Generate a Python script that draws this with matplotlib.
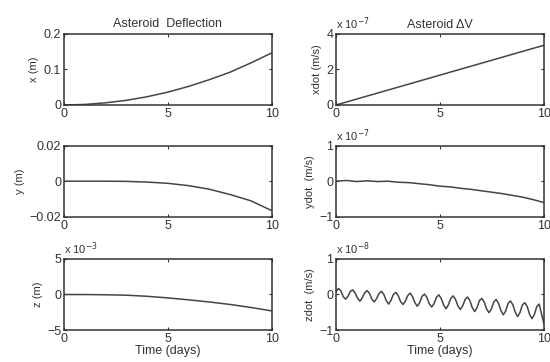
import numpy as np
import matplotlib
matplotlib.use('Agg')
import matplotlib.pyplot as plt

plt.rcParams['font.family'] = ['Liberation Sans', 'DejaVu Sans']

# --- данные ---
t_coarse = [0, 1, 2, 3, 4, 5, 6, 7, 8, 9, 10]
x_pos = [0, 0.0015, 0.006, 0.013, 0.023, 0.036, 0.052, 0.071, 0.092, 0.118, 0.146]
y_pos = [0, 0, 0, -0.0001, -0.0005, -0.0012, -0.0025, -0.0045, -0.0075, -0.011, -0.0165]
z_pos = [0, -0.01, -0.04, -0.1, -0.25, -0.48, -0.75, -1.05, -1.4, -1.82, -2.3]       # x 1e-3
xdot = [0, 0.335, 0.67, 1.005, 1.34, 1.675, 2.01, 2.345, 2.68, 3.015, 3.35]          # x 1e-7

t_ydot = [0, 0.5, 1, 1.5, 2, 2.5, 3, 3.5, 4, 4.5, 5, 5.5, 6, 6.5, 7, 7.5, 8, 8.5, 9, 9.5, 10]
ydot = [0, 0.02, -0.01, 0.01, -0.01, 0.0, -0.03, -0.04, -0.07, -0.1, -0.14, -0.16,
        -0.2, -0.23, -0.27, -0.31, -0.35, -0.4, -0.45, -0.52, -0.6]                   # x 1e-7

# zdot, x 1e-8, колебания считаны по гребням и впадинам
zdot = [0.08,
        0.17, 0.10, -0.06, -0.13, -0.05, 0.09,
        0.13, 0.04, -0.10, -0.19, -0.09, 0.05,
        0.11, 0.03, -0.13, -0.21, -0.11, 0.03,
        0.09, 0.00, -0.17, -0.27, -0.16, 0.00,
        0.06, -0.03, -0.20, -0.28, -0.19, -0.03,
        0.04, -0.06, -0.23, -0.33, -0.23, -0.05,
        0.01, -0.08, -0.26, -0.35, -0.26, -0.08,
        -0.01, -0.11, -0.29, -0.40, -0.29, -0.11,
        -0.04, -0.14, -0.32, -0.42, -0.32, -0.14,
        -0.07, -0.17, -0.37, -0.48, -0.37, -0.17,
        -0.11, -0.21, -0.41, -0.51, -0.41, -0.21,
        -0.14, -0.25, -0.45, -0.57, -0.46, -0.25,
        -0.18, -0.29, -0.50, -0.62, -0.50, -0.29,
        -0.23, -0.34, -0.56, -0.68, -0.56, -0.34,
        -0.27, -0.55, -0.82]
t_zdot = np.linspace(0, 10, len(zdot))

line_c = '#454545'
txt_c = '#333333'
fs = 9

fig = plt.figure(figsize=(5.5, 3.62), dpi=100)

lefts = [0.116, 0.611]
bottoms = [0.710, 0.401, 0.088]
w, h = 0.378, 0.197


def setup(ax, ylim, yticks, ylabel, expo=None, xlabel=False):
    ax.set_xlim(0, 10)
    ax.set_ylim(*ylim)
    ax.set_xticks([0, 5, 10])
    ax.set_yticks(yticks)
    ax.tick_params(direction='in', length=2.5, width=0.8, top=True, right=True,
                   labelsize=fs, colors=txt_c, pad=2)
    for s in ax.spines.values():
        s.set_linewidth(1.1)
        s.set_color(txt_c)
    ax.set_ylabel(ylabel, fontsize=fs - 1, color=txt_c, labelpad=3)
    if expo is not None:
        ax.text(0.0, 1.02, r'x 10$^{%d}$' % expo, transform=ax.transAxes,
                fontsize=fs - 1, color=txt_c, ha='left', va='bottom')
    if xlabel:
        ax.set_xlabel('Time (days)', fontsize=fs, color=txt_c, labelpad=0)


# левая колонка: положение
ax = fig.add_axes([lefts[0], bottoms[0], w, h])
ax.plot(t_coarse, x_pos, color=line_c, lw=1.1)
setup(ax, (0, 0.2), [0, 0.1, 0.2], 'x (m)')
ax.set_yticklabels(['0', '0.1', '0.2'])
ax.set_title('Asteroid  Deflection', fontsize=fs, color=txt_c, pad=5)

ax = fig.add_axes([lefts[0], bottoms[1], w, h])
ax.plot(t_coarse, y_pos, color=line_c, lw=1.1)
setup(ax, (-0.02, 0.02), [-0.02, 0, 0.02], 'y (m)')
ax.set_yticklabels(['\u22120.02', '0', '0.02'])

ax = fig.add_axes([lefts[0], bottoms[2], w, h])
ax.plot(t_coarse, z_pos, color=line_c, lw=1.1)
setup(ax, (-5, 5), [-5, 0, 5], 'z (m)', expo=-3, xlabel=True)

# правая колонка: скорость
ax = fig.add_axes([lefts[1], bottoms[0], w, h])
ax.plot(t_coarse, xdot, color=line_c, lw=1.1)
setup(ax, (0, 4), [0, 2, 4], 'xdot (m/s)', expo=-7)
ax.text(0.5, 1.04, 'Asteroid \u0394V', transform=ax.transAxes, fontsize=fs,
        color=txt_c, ha='center', va='bottom')

ax = fig.add_axes([lefts[1], bottoms[1], w, h])
ax.plot(t_ydot, ydot, color=line_c, lw=1.1)
setup(ax, (-1, 1), [-1, 0, 1], 'ydot  (m/s)', expo=-7)

ax = fig.add_axes([lefts[1], bottoms[2], w, h])
ax.plot(t_zdot, zdot, color=line_c, lw=1.1)
setup(ax, (-1, 1), [-1, 0, 1], 'zdot  (m/s)', expo=-8, xlabel=True)

fig.savefig('out.png', dpi=100)
plt.close(fig)
